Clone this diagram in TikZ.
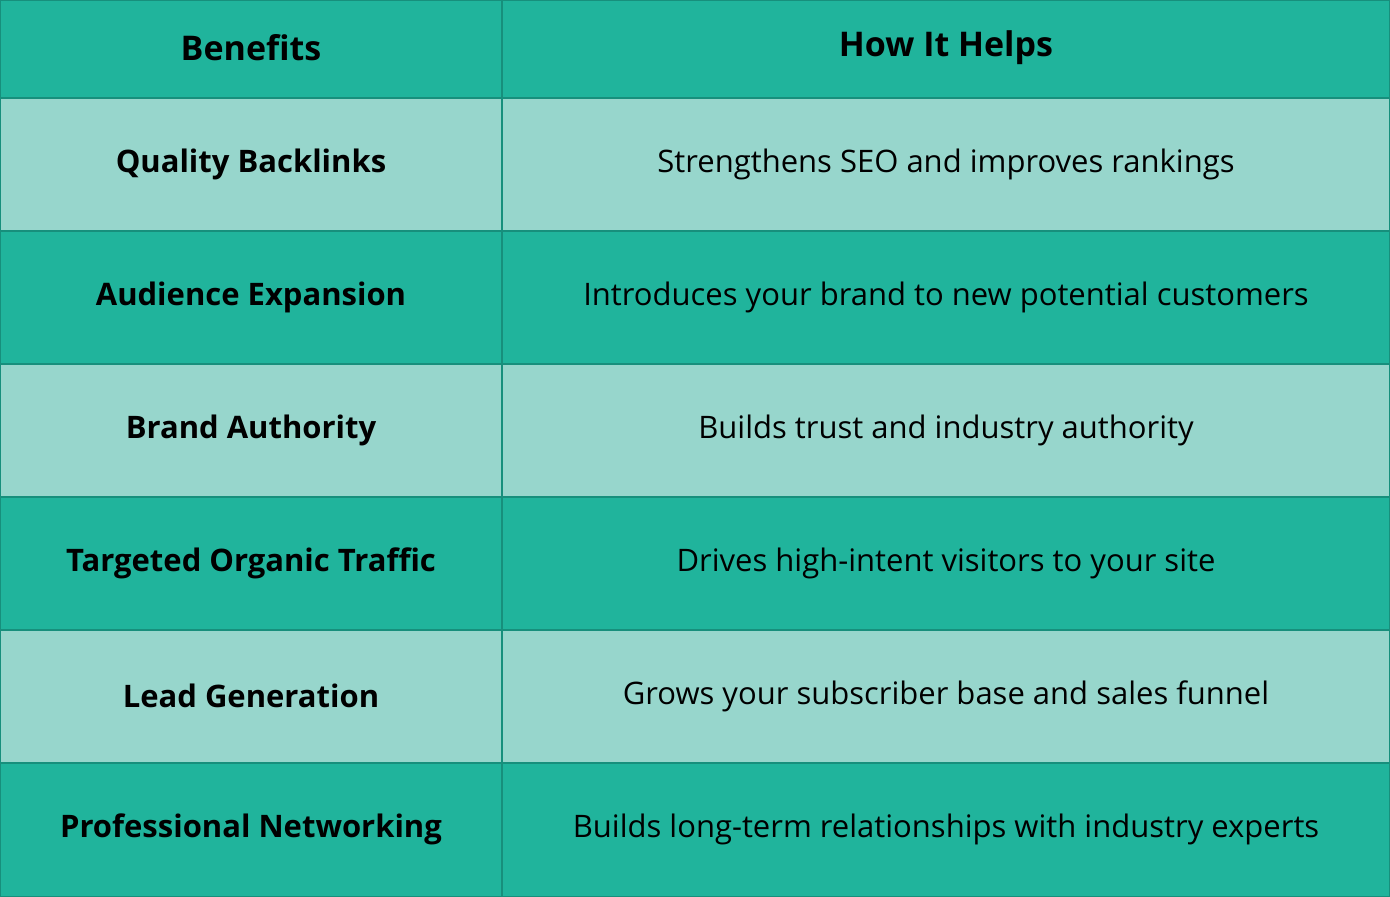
\documentclass[tikz,border=0pt]{standalone}
\usepackage{fontspec}
\setmainfont{Open Sans}
\definecolor{dk}{HTML}{20B49C}
\definecolor{lt}{HTML}{97D6CC}
\definecolor{ln}{HTML}{178F7C}
\begin{document}
\begin{tikzpicture}[x=0.5pt,y=-0.5pt,
 cell/.style={draw=ln,line width=1pt},
 hd/.style={font=\fontsize{17}{20}\selectfont\bfseries,text=black},
 bd/.style={font=\fontsize{15.5}{18}\selectfont,text=black},
 bh/.style={font=\fontsize{15.5}{18}\selectfont\bfseries,text=black}]
\useasboundingbox (0,0) rectangle (1390,897);
\fill[dk] (0,0) rectangle (1390,897);
\def\ys{0,98,231,364,497,630,763,897}
\foreach \a/\b/\c in {0/98/dk,98/231/lt,231/364/dk,364/497/lt,497/630/dk,630/763/lt,763/897/dk}{
 \filldraw[cell,fill=\c] (0,\a) rectangle (502,\b);
 \filldraw[cell,fill=\c] (502,\a) rectangle (1390,\b);
}
\node[hd] (h1) at (251,48) {Benefits};
\node[hd] (h2) at (946,48) {How It Helps};
\foreach \y/\l/\r [count=\i] in {
 164/Quality Backlinks/Strengthens SEO and improves rankings,
 297/Audience Expansion/Introduces your brand to new potential customers,
 430/Brand Authority/Builds trust and industry authority,
 563/Targeted Organic Traffic/Drives high-intent visitors to your site,
 696/Lead Generation/Grows your subscriber base and sales funnel,
 829/Professional Networking/Builds long-term relationships with industry experts}{
 \node[bh] (l\i) at (251,\y) {\l};
 \node[bd] (r\i) at (946,\y) {\r};
}
\end{tikzpicture}
\end{document}
